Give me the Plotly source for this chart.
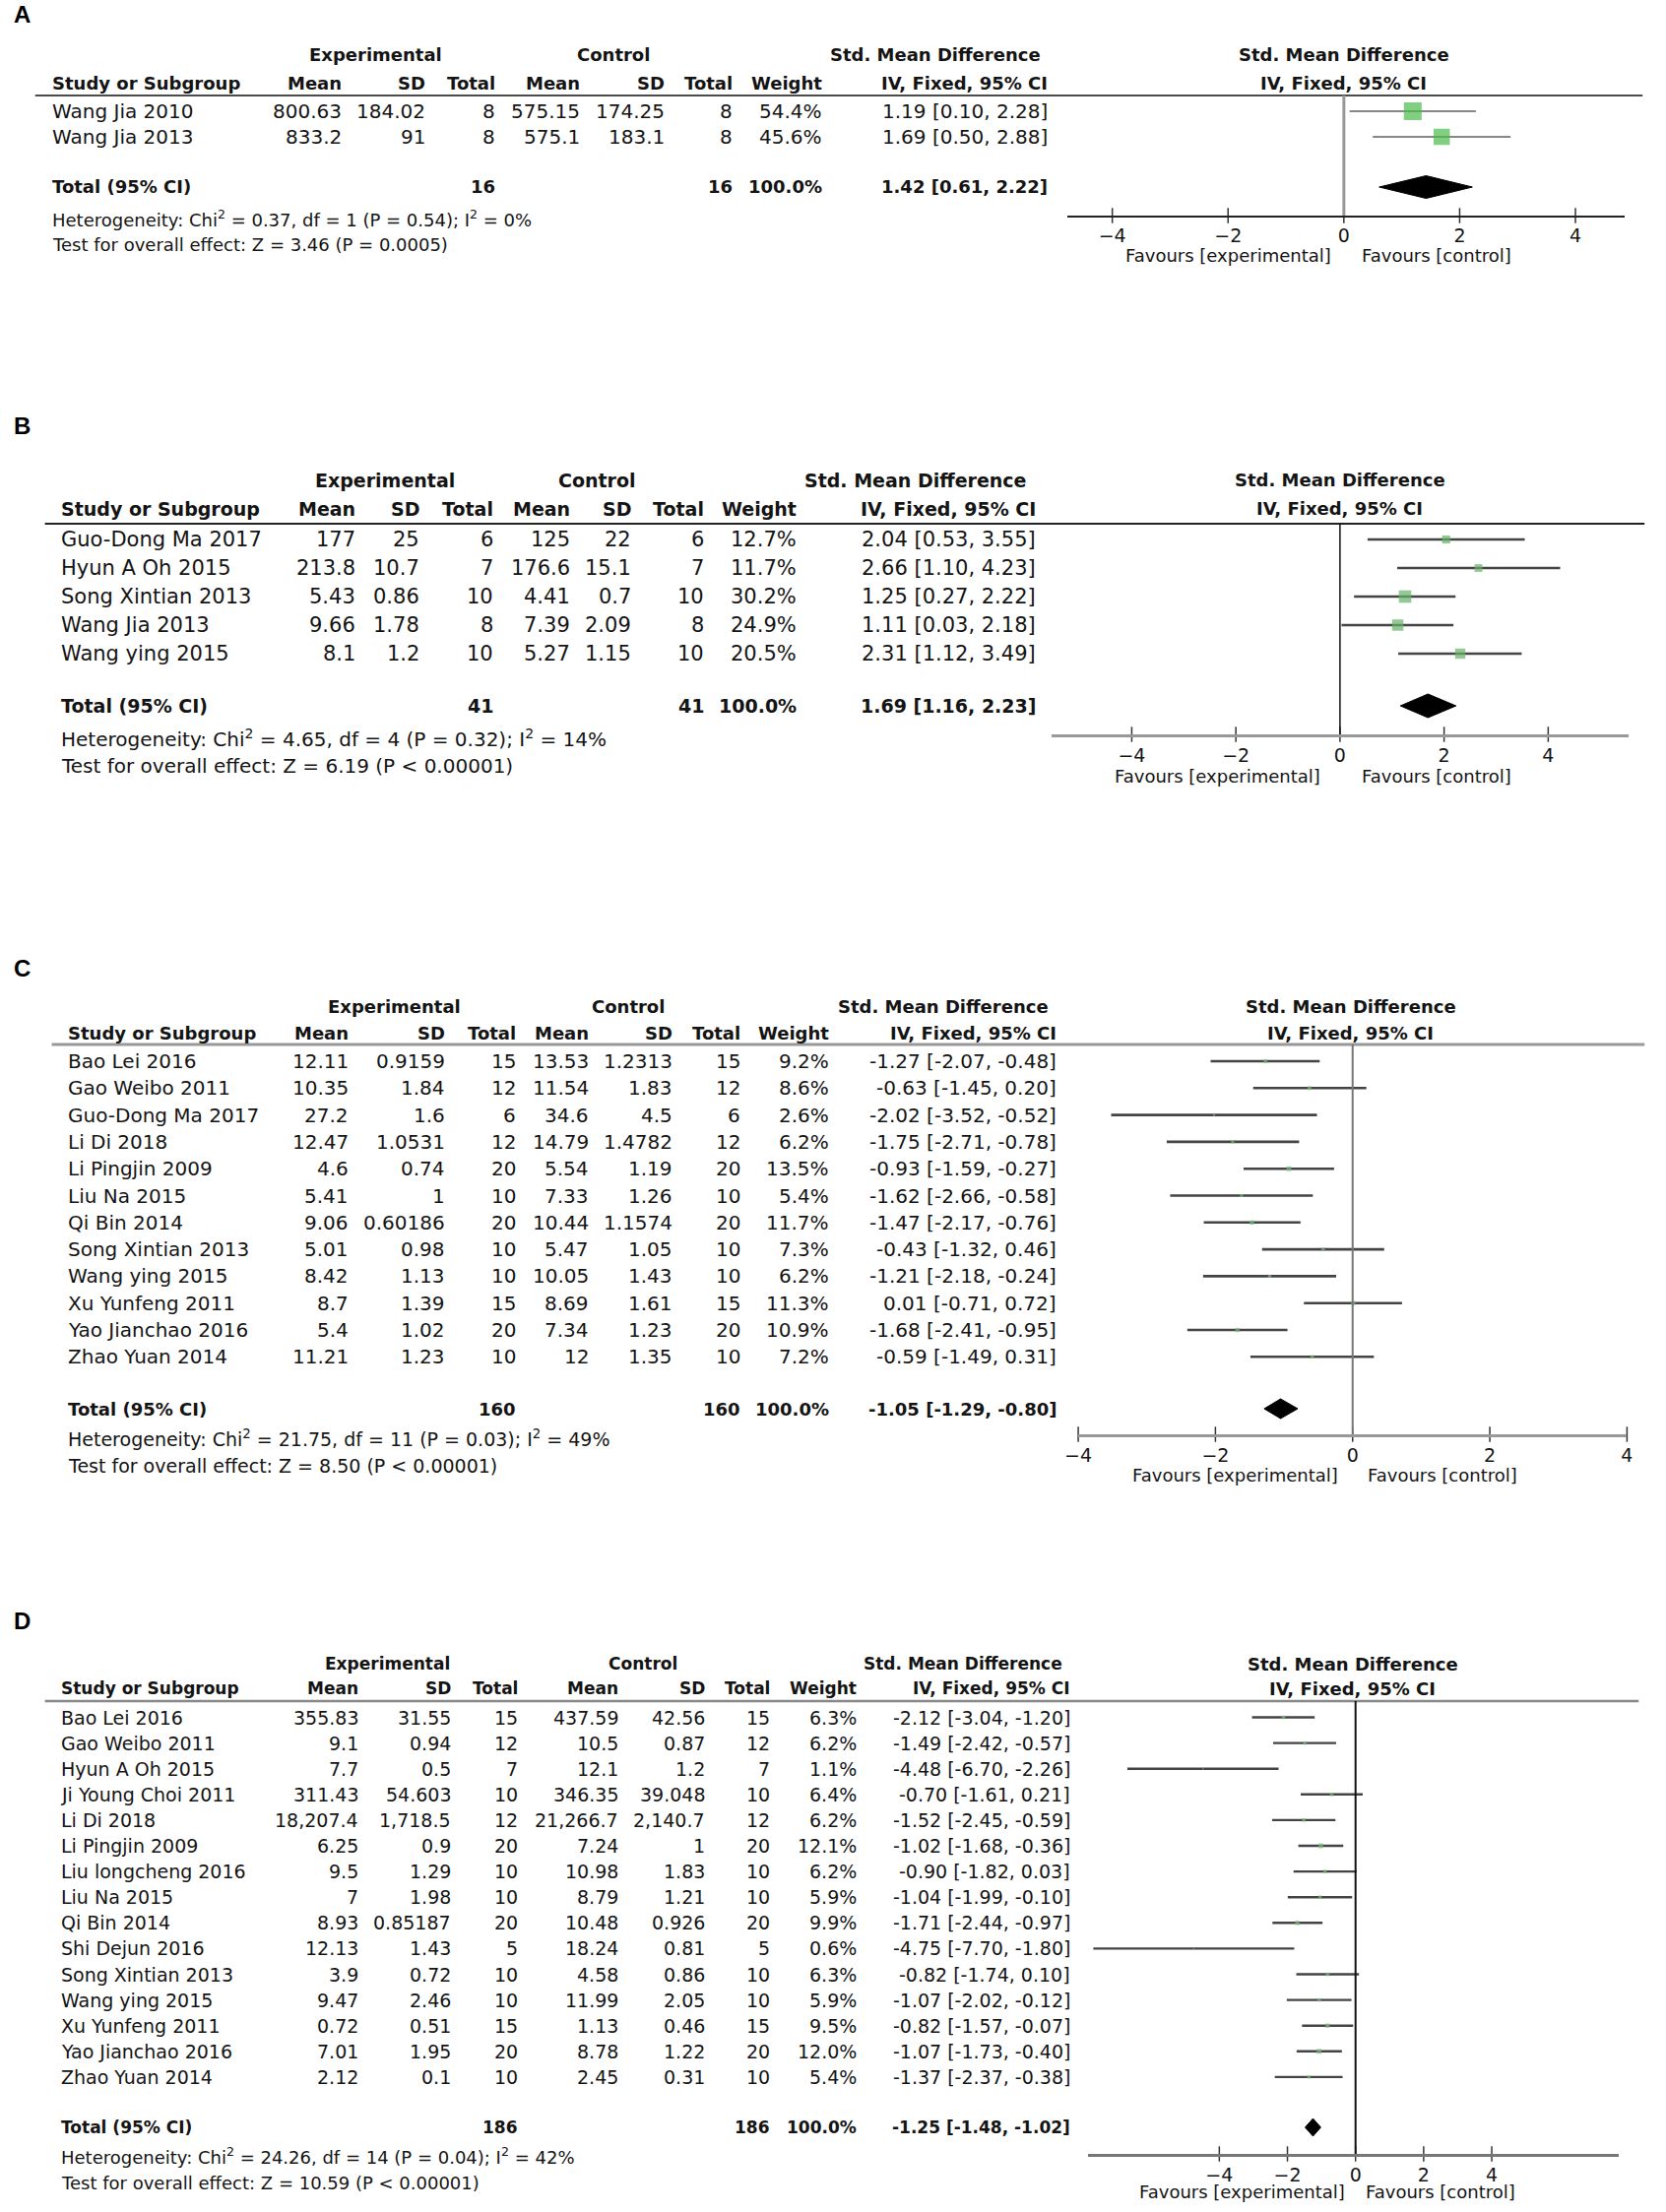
import math
import plotly.graph_objects as go

W, H = 1692, 2247

# ---------------- data ----------------
A_studies = ["Wang Jia 2010", "Wang Jia 2013"]
A_exp_mean = ["800.63", "833.2"]
A_exp_sd = ["184.02", "91"]
A_exp_n = [8, 8]
A_ctl_mean = ["575.15", "575.1"]
A_ctl_sd = ["174.25", "183.1"]
A_ctl_n = [8, 8]
A_weight = [54.4, 45.6]
A_smd = [1.19, 1.69]
A_lo = [0.10, 0.50]
A_hi = [2.28, 2.88]
A_total = [1.42, 0.61, 2.22]
A_total_n = [16, 16]
A_het = "Heterogeneity: Chi<sup>2</sup> = 0.37, df = 1 (P = 0.54); I<sup>2</sup> = 0%"
A_test = "Test for overall effect: Z = 3.46 (P = 0.0005)"

B_studies = ["Guo-Dong Ma 2017", "Hyun A Oh 2015", "Song Xintian 2013", "Wang Jia 2013", "Wang ying 2015"]
B_exp_mean = ["177", "213.8", "5.43", "9.66", "8.1"]
B_exp_sd = ["25", "10.7", "0.86", "1.78", "1.2"]
B_exp_n = [6, 7, 10, 8, 10]
B_ctl_mean = ["125", "176.6", "4.41", "7.39", "5.27"]
B_ctl_sd = ["22", "15.1", "0.7", "2.09", "1.15"]
B_ctl_n = [6, 7, 10, 8, 10]
B_weight = [12.7, 11.7, 30.2, 24.9, 20.5]
B_smd = [2.04, 2.66, 1.25, 1.11, 2.31]
B_lo = [0.53, 1.10, 0.27, 0.03, 1.12]
B_hi = [3.55, 4.23, 2.22, 2.18, 3.49]
B_total = [1.69, 1.16, 2.23]
B_total_n = [41, 41]
B_het = "Heterogeneity: Chi<sup>2</sup> = 4.65, df = 4 (P = 0.32); I<sup>2</sup> = 14%"
B_test = "Test for overall effect: Z = 6.19 (P &lt; 0.00001)"

C_studies = ["Bao Lei 2016", "Gao Weibo 2011", "Guo-Dong Ma 2017", "Li Di 2018", "Li Pingjin 2009",
             "Liu Na 2015", "Qi Bin 2014", "Song Xintian 2013", "Wang ying 2015", "Xu Yunfeng 2011",
             "Yao Jianchao 2016", "Zhao Yuan 2014"]
C_exp_mean = ["12.11", "10.35", "27.2", "12.47", "4.6", "5.41", "9.06", "5.01", "8.42", "8.7", "5.4", "11.21"]
C_exp_sd = ["0.9159", "1.84", "1.6", "1.0531", "0.74", "1", "0.60186", "0.98", "1.13", "1.39", "1.02", "1.23"]
C_exp_n = [15, 12, 6, 12, 20, 10, 20, 10, 10, 15, 20, 10]
C_ctl_mean = ["13.53", "11.54", "34.6", "14.79", "5.54", "7.33", "10.44", "5.47", "10.05", "8.69", "7.34", "12"]
C_ctl_sd = ["1.2313", "1.83", "4.5", "1.4782", "1.19", "1.26", "1.1574", "1.05", "1.43", "1.61", "1.23", "1.35"]
C_ctl_n = [15, 12, 6, 12, 20, 10, 20, 10, 10, 15, 20, 10]
C_weight = [9.2, 8.6, 2.6, 6.2, 13.5, 5.4, 11.7, 7.3, 6.2, 11.3, 10.9, 7.2]
C_smd = [-1.27, -0.63, -2.02, -1.75, -0.93, -1.62, -1.47, -0.43, -1.21, 0.01, -1.68, -0.59]
C_lo = [-2.07, -1.45, -3.52, -2.71, -1.59, -2.66, -2.17, -1.32, -2.18, -0.71, -2.41, -1.49]
C_hi = [-0.48, 0.20, -0.52, -0.78, -0.27, -0.58, -0.76, 0.46, -0.24, 0.72, -0.95, 0.31]
C_total = [-1.05, -1.29, -0.80]
C_total_n = [160, 160]
C_het = "Heterogeneity: Chi<sup>2</sup> = 21.75, df = 11 (P = 0.03); I<sup>2</sup> = 49%"
C_test = "Test for overall effect: Z = 8.50 (P &lt; 0.00001)"

D_studies = ["Bao Lei 2016", "Gao Weibo 2011", "Hyun A Oh 2015", "Ji Young Choi 2011", "Li Di 2018",
             "Li Pingjin 2009", "Liu longcheng 2016", "Liu Na 2015", "Qi Bin 2014", "Shi Dejun 2016",
             "Song Xintian 2013", "Wang ying 2015", "Xu Yunfeng 2011", "Yao Jianchao 2016", "Zhao Yuan 2014"]
D_exp_mean = ["355.83", "9.1", "7.7", "311.43", "18,207.4", "6.25", "9.5", "7", "8.93", "12.13", "3.9", "9.47", "0.72", "7.01", "2.12"]
D_exp_sd = ["31.55", "0.94", "0.5", "54.603", "1,718.5", "0.9", "1.29", "1.98", "0.85187", "1.43", "0.72", "2.46", "0.51", "1.95", "0.1"]
D_exp_n = [15, 12, 7, 10, 12, 20, 10, 10, 20, 5, 10, 10, 15, 20, 10]
D_ctl_mean = ["437.59", "10.5", "12.1", "346.35", "21,266.7", "7.24", "10.98", "8.79", "10.48", "18.24", "4.58", "11.99", "1.13", "8.78", "2.45"]
D_ctl_sd = ["42.56", "0.87", "1.2", "39.048", "2,140.7", "1", "1.83", "1.21", "0.926", "0.81", "0.86", "2.05", "0.46", "1.22", "0.31"]
D_ctl_n = [15, 12, 7, 10, 12, 20, 10, 10, 20, 5, 10, 10, 15, 20, 10]
D_weight = [6.3, 6.2, 1.1, 6.4, 6.2, 12.1, 6.2, 5.9, 9.9, 0.6, 6.3, 5.9, 9.5, 12.0, 5.4]
D_smd = [-2.12, -1.49, -4.48, -0.70, -1.52, -1.02, -0.90, -1.04, -1.71, -4.75, -0.82, -1.07, -0.82, -1.07, -1.37]
D_lo = [-3.04, -2.42, -6.70, -1.61, -2.45, -1.68, -1.82, -1.99, -2.44, -7.70, -1.74, -2.02, -1.57, -1.73, -2.37]
D_hi = [-1.20, -0.57, -2.26, 0.21, -0.59, -0.36, 0.03, -0.10, -0.97, -1.80, 0.10, -0.12, -0.07, -0.40, -0.38]
D_total = [-1.25, -1.48, -1.02]
D_total_n = [186, 186]
D_het = "Heterogeneity: Chi<sup>2</sup> = 24.26, df = 14 (P = 0.04); I<sup>2</sup> = 42%"
D_test = "Test for overall effect: Z = 10.59 (P &lt; 0.00001)"

total_weight_text = "100.0%"
panel_letters = ["A", "B", "C", "D"]
tick_vals = [-4, -2, 0, 2, 4]
tick_text = ["\u22124", "\u22122", "0", "2", "4"]
hdr_groups = ["Experimental", "Control", "Std. Mean Difference"]
hdr_cols = ["Mean", "SD", "Total", "Mean", "SD", "Total", "Weight", "IV, Fixed, 95% CI"]
plot_hdr = ["Std. Mean Difference", "IV, Fixed, 95% CI"]
fav_labels = ["Favours [experimental]", "Favours [control]"]

data = [
    dict(st=A_studies, em=A_exp_mean, es=A_exp_sd, en=A_exp_n, cm=A_ctl_mean, cs=A_ctl_sd, cn=A_ctl_n,
         w=A_weight, smd=A_smd, lo=A_lo, hi=A_hi, tot=A_total, totn=A_total_n, het=A_het, test=A_test),
    dict(st=B_studies, em=B_exp_mean, es=B_exp_sd, en=B_exp_n, cm=B_ctl_mean, cs=B_ctl_sd, cn=B_ctl_n,
         w=B_weight, smd=B_smd, lo=B_lo, hi=B_hi, tot=B_total, totn=B_total_n, het=B_het, test=B_test),
    dict(st=C_studies, em=C_exp_mean, es=C_exp_sd, en=C_exp_n, cm=C_ctl_mean, cs=C_ctl_sd, cn=C_ctl_n,
         w=C_weight, smd=C_smd, lo=C_lo, hi=C_hi, tot=C_total, totn=C_total_n, het=C_het, test=C_test),
    dict(st=D_studies, em=D_exp_mean, es=D_exp_sd, en=D_exp_n, cm=D_ctl_mean, cs=D_ctl_sd, cn=D_ctl_n,
         w=D_weight, smd=D_smd, lo=D_lo, hi=D_hi, tot=D_total, totn=D_total_n, het=D_het, test=D_test),
]

# ---------------- layout (pixel geometry) ----------------
geo = [
    dict(label_y=15, hdr1=55, hdr2=84, rule=97, rule_x=(22, 1674), rule_c="#111", rule_w=1.5,
         r0=113, s=26, total=190, het=222, test=248, axis=219, fav=260, study_x=39,
         cols=[337, 423, 495, 582, 669, 739, 831, 1063], exp_c=372, ctl_c=616, smd_c=947,
         plot_px=(1083, 1656), zero=1367, unit=59.5, phc=1367, favc=(1248, 1462), fs=19.5,
         sq_k=2.45, sq_c="#4cbc4c", ci_c="#111", ci_w=1.2, z_c="#999", z_w=3, ax_c="#222", ax_w=1.5, dia_h=11.5),
    dict(label_y=433, hdr1=488, hdr2=517, rule=532, rule_x=(32, 1676), rule_c="#222", rule_w=2,
         r0=548, s=29, total=717, het=750, test=778, axis=746, fav=788, study_x=49,
         cols=[351, 417, 493, 572, 635, 709, 805, 1050], exp_c=382, ctl_c=600, smd_c=926,
         plot_px=(1067, 1660), zero=1363, unit=53.5, phc=1363, favc=(1237, 1462), fs=21,
         sq_k=2.3, sq_c="#66b066", ci_c="#444", ci_w=2.5, z_c="#111", z_w=1.5, ax_c="#999", ax_w=3, dia_h=12),
    dict(label_y=983, hdr1=1022, hdr2=1049, rule=1061, rule_x=(39, 1676), rule_c="#999", rule_w=3,
         r0=1078, s=27.3, total=1431, het=1461, test=1489, axis=1457, fav=1498, study_x=56,
         cols=[344, 443, 516, 591, 677, 747, 838, 1072], exp_c=391, ctl_c=631, smd_c=955,
         plot_px=(1094, 1658), zero=1376, unit=70.5, phc=1374, favc=(1255, 1468), fs=20,
         sq_k=1.3, sq_c="#7cb87c", ci_c="#444", ci_w=2.6, z_c="#777", z_w=2, ax_c="#999", ax_w=3, dia_h=10),
    dict(label_y=1646, hdr1=1690, hdr2=1715, rule=1728, rule_x=(32, 1670), rule_c="#888", rule_w=2.5,
         r0=1744.5, s=26.1, total=2161, het=2190, test=2217, axis=2188, fav=2226, study_x=49,
         cols=[354, 449, 518, 621, 710, 777, 866, 1086], exp_c=384, ctl_c=647, smd_c=976,
         plot_px=(1104, 1650), zero=1379, unit=35, phc=1376, favc=(1262, 1466), fs=19,
         sq_k=1.4, sq_c="#7cb87c", ci_c="#444", ci_w=2.4, z_c="#111", z_w=2, ax_c="#777", ax_w=2.5, dia_h=9),
]

FONT = "DejaVu Sans"
TXT = "#141414"

fig = go.Figure()
annotations = []
shapes = []


def pxx(x):
    return x / W


def pyy(y):
    return 1 - y / H


def text(x, y, s, anchor="left", size=19, bold=False, family=FONT, color=TXT):
    if bold:
        s = "<b>" + s + "</b>"
    annotations.append(dict(x=pxx(x), y=pyy(y), xref="paper", yref="paper", text=s, showarrow=False,
                            xanchor=anchor, yanchor="middle", align=anchor, borderpad=0, borderwidth=0,
                            font=dict(family=family, size=round(size), color=color)))


def fmt_ci(est, lo, hi):
    return "%.2f [%.2f, %.2f]" % (est, lo, hi)


layout_axes = {}
for k, (d, g) in enumerate(zip(data, geo), start=1):
    fs = g["fs"]
    hfs = fs * 0.9
    xa = "x" if k == 1 else "x%d" % k
    ya = "y" if k == 1 else "y%d" % k
    xkey = "xaxis" if k == 1 else "xaxis%d" % k
    ykey = "yaxis" if k == 1 else "yaxis%d" % k

    # panel letter
    text(0, g["label_y"], panel_letters[k - 1], size=24, bold=True, family="Liberation Sans", color="#000")

    # table headers
    text(g["exp_c"], g["hdr1"], hdr_groups[0], anchor="center", size=hfs, bold=True)
    text(g["ctl_c"], g["hdr1"], hdr_groups[1], anchor="center", size=hfs, bold=True)
    text(g["smd_c"], g["hdr1"], hdr_groups[2], anchor="center", size=hfs, bold=True)
    text(g["study_x"], g["hdr2"], "Study or Subgroup", size=hfs, bold=True)
    for cx, lab in zip(g["cols"], hdr_cols):
        text(cx, g["hdr2"], lab, anchor="right", size=hfs, bold=True)
    text(g["phc"], g["hdr1"], plot_hdr[0], anchor="center", size=18, bold=True)
    text(g["phc"], g["hdr2"], plot_hdr[1], anchor="center", size=18, bold=True)

    # header rule
    shapes.append(dict(type="line", xref="paper", yref="paper",
                       x0=pxx(g["rule_x"][0]), x1=pxx(g["rule_x"][1]), y0=pyy(g["rule"]), y1=pyy(g["rule"]),
                       line=dict(color=g["rule_c"], width=g["rule_w"])))

    # study rows
    n = len(d["st"])
    for i in range(n):
        yy = g["r0"] + g["s"] * i
        vals = [d["em"][i], d["es"][i], str(d["en"][i]), d["cm"][i], d["cs"][i], str(d["cn"][i]),
                "%.1f%%" % d["w"][i], fmt_ci(d["smd"][i], d["lo"][i], d["hi"][i])]
        text(g["study_x"], yy, d["st"][i], size=fs)
        for cx, v in zip(g["cols"], vals):
            text(cx, yy, v, anchor="right", size=fs)

    # total row + statistics
    text(g["study_x"], g["total"], "Total (95% CI)", size=hfs, bold=True)
    text(g["cols"][2], g["total"], str(d["totn"][0]), anchor="right", size=hfs, bold=True)
    text(g["cols"][5], g["total"], str(d["totn"][1]), anchor="right", size=hfs, bold=True)
    text(g["cols"][6], g["total"], total_weight_text, anchor="right", size=hfs, bold=True)
    text(g["cols"][7], g["total"], fmt_ci(d["tot"][0], d["tot"][1], d["tot"][2]),
         anchor="right", size=hfs, bold=True)
    text(g["study_x"], g["het"], d["het"], size=fs * 0.93)
    text(g["study_x"], g["test"], d["test"], size=fs * 0.93)

    # favours labels
    text(g["favc"][0], g["fav"], fav_labels[0], anchor="center", size=18.5)
    text(g["favc"][1], g["fav"], fav_labels[1], anchor="center", size=18.5)

    # ---- forest plot axes ----
    x0p, x1p = g["plot_px"]
    xr = [(x0p - g["zero"]) / g["unit"], (x1p - g["zero"]) / g["unit"]]
    y_bot = (g["axis"] - g["r0"]) / g["s"]
    y_top = (g["rule"] - g["r0"]) / g["s"]
    layout_axes[xkey] = dict(domain=[pxx(x0p), pxx(x1p)], range=xr, anchor=ya, showgrid=False,
                             zeroline=False, showline=True, linecolor=g["ax_c"], linewidth=g["ax_w"],
                             tickvals=tick_vals, ticktext=tick_text, ticks="", ticklabelstandoff=2,
                             tickfont=dict(family=FONT, size=19, color=TXT), fixedrange=True)
    layout_axes[ykey] = dict(domain=[pyy(g["axis"]), pyy(g["rule"])], range=[y_bot, y_top], anchor=xa,
                             visible=False, showgrid=False, zeroline=False, fixedrange=True)

    # zero line
    shapes.append(dict(type="line", xref=xa, yref=ya + " domain", x0=0, x1=0, y0=0, y1=1,
                       line=dict(color=g["z_c"], width=g["z_w"])))

    # CI lines
    cx, cy = [], []
    for i in range(n):
        cx += [d["lo"][i], d["hi"][i], None]
        cy += [i, i, None]
    fig.add_trace(go.Scatter(x=cx, y=cy, mode="lines", line=dict(color=g["ci_c"], width=g["ci_w"]),
                             xaxis=xa, yaxis=ya, hoverinfo="skip", showlegend=False, cliponaxis=False))
    # weighted squares
    fig.add_trace(go.Scatter(x=d["smd"], y=list(range(n)), mode="markers",
                             marker=dict(symbol="square", color=g["sq_c"],
                                         size=[g["sq_k"] * math.sqrt(w) for w in d["w"]], line=dict(width=0)),
                             xaxis=xa, yaxis=ya, showlegend=False, cliponaxis=False))
    # pooled diamond
    yt = (g["total"] - g["r0"]) / g["s"]
    hh = g["dia_h"] / g["s"]
    est, lo, hi = d["tot"]
    fig.add_trace(go.Scatter(x=[lo, est, hi, est, lo], y=[yt, yt - hh, yt, yt + hh, yt], mode="lines",
                             fill="toself", fillcolor="#000", line=dict(color="#000", width=1),
                             xaxis=xa, yaxis=ya, showlegend=False, cliponaxis=False))
    # crossing tick marks
    fig.add_trace(go.Scatter(x=tick_vals, y=[y_bot] * len(tick_vals), mode="markers",
                             marker=dict(symbol="line-ns", size=11, line=dict(color="#333", width=1.5)),
                             xaxis=xa, yaxis=ya, showlegend=False, cliponaxis=False, hoverinfo="skip"))

fig.update_layout(width=W, height=H, margin=dict(l=0, r=0, t=0, b=0), paper_bgcolor="white",
                  plot_bgcolor="rgba(0,0,0,0)", showlegend=False, annotations=annotations, shapes=shapes,
                  **layout_axes)
fig.write_html("out.html", config={"displayModeBar": False},
               post_script=("document.documentElement.style.margin='0';document.body.style.margin='0';"
                            "document.body.style.padding='0';"
                            "document.documentElement.style.overflow='hidden';"
                            "var gd=document.getElementById('{plot_id}');gd.style.position='absolute';"
                            "gd.style.left='0px';gd.style.top='0px';"))
